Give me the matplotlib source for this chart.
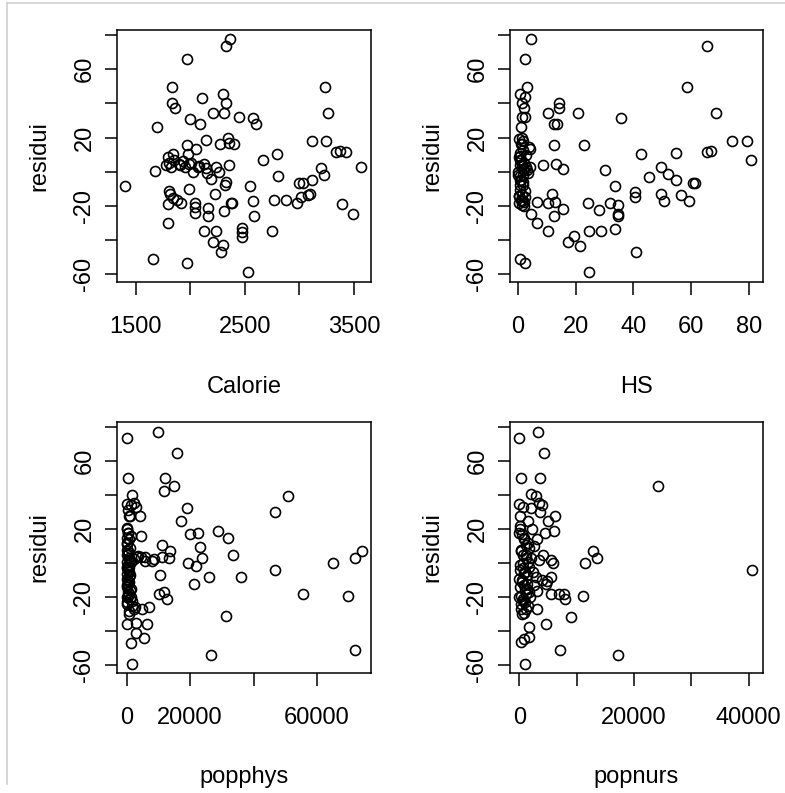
import matplotlib
matplotlib.use("Agg")
import matplotlib.pyplot as plt
from matplotlib.lines import Line2D

plt.rcParams['font.family'] = ['Liberation Sans', 'DejaVu Sans']

# residuals against each regressor
cal_x = [2361, 2324, 1964, 1830, 1830, 1854, 2104, 2294, 2324, 2208, 2312, 2446, 2575, 2599, 1995, 2086,
         1695, 3234, 3265, 3112, 3246, 3338, 3368, 3429, 3561, 3197, 3221, 3118, 2996, 3033, 3100, 3081,
         3014, 2978, 2770, 2880, 3393, 3490, 2794, 2666, 2807, 2550, 2569, 2581, 2752, 2477, 2477, 2477,
         2532, 1659, 1964, 2294, 2282, 2208, 2123, 2233, 1793,
         1793, 1909, 1811, 1799, 2037, 2037, 2037, 2159, 2159, 2312, 2373, 2385, 2223, 1982, 2318, 1402,
         1677, 1880, 1836,
         1805, 1836, 1824, 1851, 1891, 1927, 1952, 1973, 2004, 2019, 2050, 2065, 2126, 2141, 2156, 2187,
         2233, 2263, 2324, 2355, 1964, 2147, 2269, 2340, 2355, 2401, 1775, 1790, 1903, 1990, 2080]
cal_res = [78, 73.6, 66, 49.7, 40, 37.6, 43, 45.4, 40, 34.5, 34.5, 32, 31.6, 28, 31, 28,
           26, 49.7, 34.5, 18, 18, 11.6, 12.2, 11.5, 2.9, 2, -1.6, -5, -6.3, -6.3, -12.8, -13.6,
           -14.7, -18.3, -16.4, -16.4, -19, -24.5, 10.3, 6.8, -2.6, -8.3, -17, -26, -34.6, -33, -35, -38,
           -58.7, -51, -53.4, -43, -47, -41, -34.6, -34.6, -30,
           -19, -18, -12.8, -11.2, -18, -20.5, -24.4, -21, -26, -22.9, -18, -18, -13.2, -10, -8, -8.3,
           0.5, -16.6, -15.6,
           5.2, 10.7, 2.9, 7.2, 4.8, 6.4, 2.9, 10.7, 5.2, 0, 13.6, 2.9, 4.8, 2, -0.7, -4,
           2.9, -0.4, -6, 3.9, 15.6, 18.9, 16.2, 19.5, 16.9, 16.2, 3.9, 8.8, 4.0, 4.5, 3.5]

hs_x = [4.4, 2.5, 3.2, 0.5, 2.5, 1.2, 2.1, 1.4, 2.5, 0.9, 14.3, 14.1, 10.4, 12.3, 13.4, 20.6,
        35.6, 1.2, 1.2, 1.6, 4.2, 12.3, 22.7, 42.5, 54.6, 58.7, 65.4, 68.7, 74, 79.5, 65.4, 66.8,
        80.9, 49.7, 51.8, 54.8, 45.3, 30.3, 61.3, 60.8, 33.5, 40.7, 40.7, 49.7, 50.6, 56.4, 59.4,
        24.3, 28.2, 31.7, 34.7, 34.5, 34.5, 6.5, 10.4, 11.6, 12.3, 15.7, 12.9, 4.4, 6.5, 10.4,
        19.4, 17.3, 21.5, 24.5, 28.7, 33.5, 40.9, 24.7, 0.5, 2.5,
        0.5, 1.6, 0, 2.8, 1, 3.4, 8.6, 13.2, 15.5, 0.7, 0.7, 0.7, 1, 2.2, 0.3, 1.5,
        3.9, 0.2, 2.0, 3.0, 0.5, 1.5, 2.5, 0.8, 1.8, 4.0, 0.3,
        0.3, 1.0, 1.8, 2.6, 0.6, 1.4, 2.2, 0.1, 0.9, 1.7, 2.5, 0.4, 1.2, 2.0, 0.8, 1.6]
hs_res = [78, 66, 49.7, 45.4, 43.5, 40, 37.6, 31.8, 32, 26, 40, 37.6, 34.5, 28, 28, 34.5,
          31.2, 19.5, 16.1, 18, 13.6, 15.6, 15.6, 10.3, 11, 49.7, 73.8, 34.5, 18, 18, 11.5, 12.2,
          7.2, 2.9, -1.4, -5, -3, 1.3, -6.3, -6.3, -8.3, -11.8, -14.7, -13.2, -17, -13.7, -17,
          -18.2, -22.5, -18.2, -19.2, -24.5, -26, -17.6, -18.2, -12.8, -25.7, -21.7, -17.6, -24.5, -30, -34.6,
          -37.8, -41, -43.6, -34.6, -34.6, -33.5, -46.7, -58.7, -51, -53.4,
          3.8, 1.9, 0, 2.9, 6.8, -0.8, 3.8, 4.7, 1.9, -4.9, -7.8, -10.8, -16.6, -17.6, -18.5, -19.2,
          14.6, 8.5, 5.0, 0.8, -2.5, -13.5, -15.0, 11.0, -1.8, 3.0, -14.0,
          19, 16, 13, 10, 7, 4, 1, -2, -5, -8, -11, -14, -17, -20, 9, -6]

phys_x = [0, 9930, 16050, 420, 12250, 15000, 11830, 1690, 0, 1270, 2320, 2960, 1060, 4220, 19000, 17100,
          50900, 46700, 20060, 22600, 28930, 32100, 23230, 23870, 33580, 19220, 21960, 25980, 36115, 21330,
          11190, 13730, 11190, 13520, 10560, 10140, 12670, 11830, 8030, 5910, 3590, 4650, 2320, 1270, 4430,
          46700, 55550, 65050, 72000, 74100, 69700, 72000, 31260, 26600,
          200, 630, 0, 420, 0, 0, 420, 210, 0, 420, 1690, 2750, 845, 4860, 6970, 0,
          2960, 6550, 2960, 5490, 1270, 1690,
          300, 600, 150, 800, 500, 1000, 1500, 200, 900, 1200, 300, 700,
          100, 400, 800, 300, 1200, 600, 200, 900, 1500, 500, 0, 700, 1100, 300, 800, 200,
          1300, 400, 600, 1000, 0, 1800, 2200, 900, 500, 3270, 5900, 8550]
phys_res = [73.6, 77, 65, 49.8, 49.8, 45.3, 42.4, 40, 34.6, 34.2, 35.6, 33, 27.7, 27.7, 32.2, 24.8,
            39.8, 30, 17, 18, 19, 14.7, 9.6, 3, 5.1, -0.1, -1.7, -8.1, -8.1, -12.4,
            10.5, 7.3, 3.4, 2.8, -6.8, -18.1, -21, -17.1, 1.2, 3.8, 4.3, 3.4, 2.4, 15.8, 15.8,
            -4, -18.1, 0.4, 2.8, 6.9, -19.3, -50.7, -31.2, -54,
            -20, -18.1, -14.2, -10.3, -6.4, -2.5, 5.3, 11.2, 15.1, 18, -22, -25.9, -27.8, -26.8, -25.9, -35.6,
            -35, -35.6, -40.9, -44, -46.8, -59.4,
            0.5, -4, 8, -8, -12, -16, -20, -24, -2, 2, 20, -30,
            21, 18, 14, 12, 9, 7, 5, 3, 1, -1, -3, -5, -7, -9, -11, -13,
            -15, -17, -19, -21, -23, -25, -27, 28, 31, 3.4, 1.6, 2.5]

nurs_x = [0, 3250, 4300, 350, 3600, 24170, 1975, 2900, 3490, 3950, 0, 580, 2090, 116, 3600, 6270,
          5000, 6040, 4420, 12780, 13480, 11390, 40670, 11040, 5460, 6970, 7900, 2900, 5580, 5810,
          3020, 3020, 4650, 1740, 1630, 810, 350, 9060, 7090, 17200, 930,
          0, 800, 1500, 2500, 300, 1200, 2000, 3500, 600, 1700, 100, 900, 2300, 400, 1400, 200,
          1000, 2600, 0, 700, 1800, 300, 1200, 500, 4000, 4600, 5500, 4200, 3000, 2200, 100, 1500,
          4880, 7790,
          100, 400, 800, 1200, 1600, 300, 700, 1100, 1500, 200, 600, 1000, 1400, 0, 500, 900,
          1300, 1700, 250, 650, 1050, 1450, 350, 750, 1150]
nurs_res = [73.6, 77, 65, 49.8, 49.8, 45.3, 40.4, 39.4, 35.5, 34.2, 34.6, 33, 32.6, 27.7, 30.3, 27.9,
            24.8, 19, 18, 7.3, 3, 0.2, -3.7, -19, -18.1, -18.1, -21, -8, -8, 0.4,
            -16.5, -26.9, -35.6, -37.6, -43.4, -44.4, -46.4, -31.3, -50.8, -54.2, -59.4,
            18, 15, 12, 10, 8, 5, 3, 2, 0, -2, -4, -6, -5, -10, -12, -14,
            -16, -13, -20, -22, -20, -24, -27, -30, -10, -12, 2, 5, 14, 20, 22, 25,
            -10.3, -17.9,
            20, 17, 14, 11, 9, 7, 5, 3, 1, -1, -3, -5, -7, -9, -11, -13,
            -15, -17, -19, -21, -23, -25, -27, -29, -18]

res_ticks = [-60, -40, -20, 0, 20, 40, 60, 80]
res_labels = ['-60', '', '-20', '', '20', '', '60', '']

panels = [
    (cal_x, cal_res, 'Calorie', (1326, 3656), [1500, 2000, 2500, 3000, 3500], ['1500', '', '2500', '', '3500']),
    (hs_x, hs_res, 'HS', (-2.8, 84.9), [0, 20, 40, 60, 80], ['0', '20', '40', '60', '80']),
    (phys_x, phys_res, 'popphys', (-3000, 77000), [0, 20000, 40000, 60000], ['0', '20000', '', '60000']),
    (nurs_x, nurs_res, 'popnurs', (-1630, 42530), [0, 10000, 20000, 30000, 40000], ['0', '', '20000', '', '40000']),
]

W, H = 785, 793
fig = plt.figure(figsize=(W / 100, H / 100), dpi=100)
fig.patch.set_facecolor('white')

# frame boxes in pixels: left, top, width, height
boxes = [(117, 30, 254, 252), (510, 30, 253, 252), (117, 422, 254, 251), (510, 422, 253, 251)]

for (x, y, name, xlim, xt, xtl), (l, t, w, h) in zip(panels, boxes):
    ax = fig.add_axes([l / W, 1 - (t + h) / H, w / W, h / H])
    ax.plot(x, y, 'o', ms=7.2, mfc='none', mec='black', mew=1.2, ls='none')
    ax.set_xlim(*xlim)
    ax.set_ylim(-64.5, 83.0)
    ax.set_xticks(xt)
    ax.set_xticklabels(xtl)
    ax.set_yticks(res_ticks)
    ax.set_yticklabels(res_labels, rotation=90, va='center')
    for s in ax.spines.values():
        s.set_linewidth(1.1)
    ax.tick_params(axis='x', length=9, width=1.1, pad=15.5, labelsize=17)
    ax.tick_params(axis='y', length=9, width=1.1, pad=6.5, labelsize=17)
    ax.set_xlabel(name, fontsize=17, va='baseline')
    ax.xaxis.set_label_coords(0.5, -0.4385)
    ax.set_ylabel('residui', fontsize=17, va='baseline')
    ax.yaxis.set_label_coords(-0.283, 0.5)

# thin grey border of the window
fig.add_artist(Line2D([7 / W, 1], [1 - 3 / H, 1 - 3 / H], color='#cfcfcf', lw=1.2))
fig.add_artist(Line2D([7 / W, 7 / W], [1 - 3 / H, 1 - 784 / H], color='#cfcfcf', lw=1.2))

fig.savefig('out.png', dpi=100)
